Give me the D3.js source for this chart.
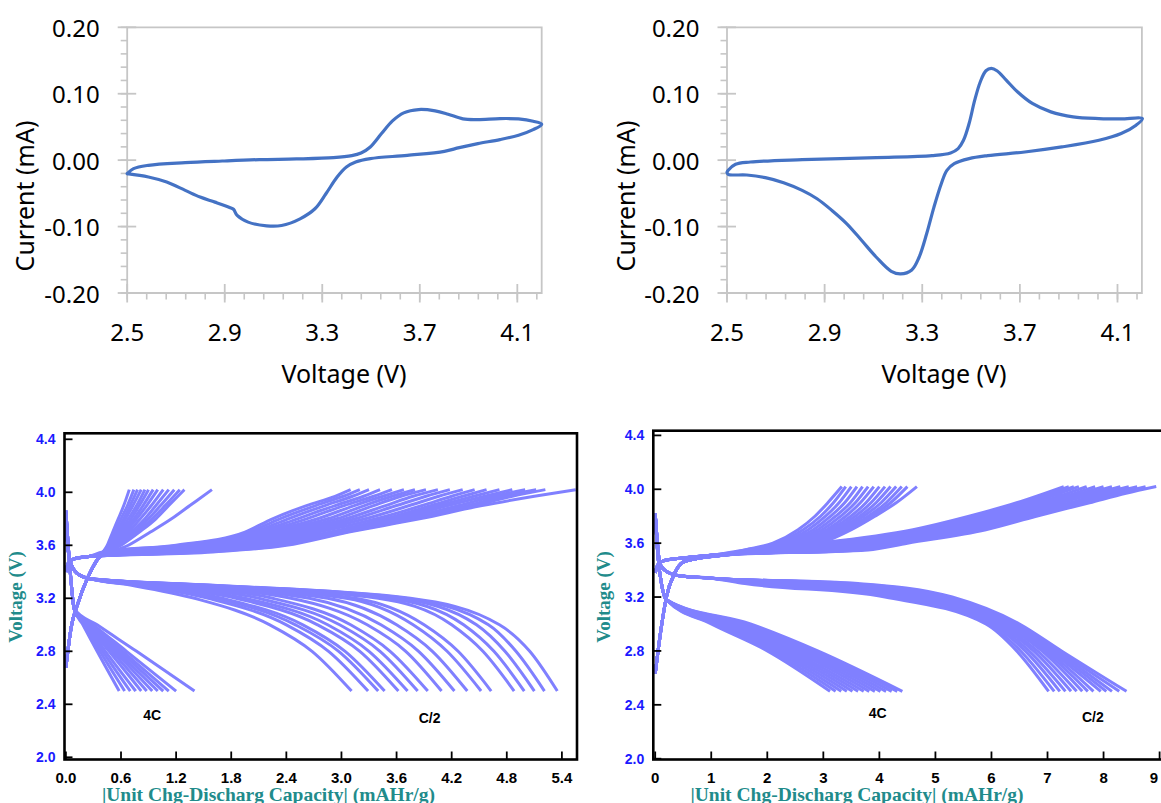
<!DOCTYPE html>
<html><head><meta charset="utf-8">
<script src="https://cdn.jsdelivr.net/npm/d3@7"></script>
<style>
html,body{margin:0;padding:0;background:#fff;}
svg{display:block;}
</style></head><body>
<svg id="chart" width="1161" height="803"></svg>
<script>
// ======================= DATA =======================
// --- Cyclic voltammetry (top) ---
const cvVoltTicks = [2.5, 2.9, 3.3, 3.7, 4.1];
const cvCurrTicks = [-0.20, -0.10, 0.00, 0.10, 0.20];

const cvA_voltage = [2.500,2.526,2.587,2.738,2.890,3.042,3.194,3.346,3.421,3.459,3.497,3.543,3.588,3.634,3.695,3.763,3.816,3.877,3.938,4.029,4.105,4.165,4.200,4.165,4.105,4.029,3.938,3.862,3.801,3.649,3.497,3.437,3.399,3.361,3.315,3.270,3.209,3.133,3.072,2.996,2.951,2.936,2.920,2.860,2.799,2.738,2.662,2.587,2.500];
const cvA_current = [-0.0204,-0.0128,-0.0078,-0.0038,-0.0013,0.0008,0.0018,0.0038,0.0068,0.0108,0.0199,0.0400,0.0591,0.0712,0.0762,0.0742,0.0692,0.0621,0.0611,0.0626,0.0621,0.0586,0.0541,0.0460,0.0375,0.0309,0.0249,0.0189,0.0133,0.0073,0.0023,-0.0028,-0.0103,-0.0254,-0.0506,-0.0732,-0.0883,-0.0984,-0.0989,-0.0933,-0.0833,-0.0740,-0.0712,-0.0632,-0.0556,-0.0455,-0.0330,-0.0254,-0.0204];

const cvB_voltage = [2.500,2.505,2.535,2.596,2.808,3.112,3.340,3.416,3.447,3.469,3.492,3.515,3.538,3.561,3.583,3.606,3.644,3.690,3.751,3.827,3.918,4.024,4.115,4.202,4.176,4.115,4.024,3.872,3.720,3.568,3.492,3.431,3.401,3.378,3.348,3.318,3.287,3.257,3.211,3.173,3.112,3.052,2.991,2.930,2.869,2.808,2.732,2.657,2.581,2.505,2.500];
const cvB_current = [-0.0184,-0.0153,-0.0063,-0.0028,0.0008,0.0038,0.0068,0.0108,0.0174,0.0299,0.0551,0.0903,0.1180,0.1346,0.1381,0.1346,0.1205,0.1029,0.0853,0.0727,0.0652,0.0626,0.0621,0.0626,0.0526,0.0400,0.0299,0.0199,0.0123,0.0068,0.0023,-0.0053,-0.0153,-0.0355,-0.0707,-0.1109,-0.1462,-0.1653,-0.1713,-0.1673,-0.1462,-0.1210,-0.0958,-0.0757,-0.0581,-0.0455,-0.0340,-0.0264,-0.0224,-0.0214,-0.0184];

// --- Galvanostatic cycling (bottom) ---
const gcdVoltTicks = [2.0, 2.4, 2.8, 3.2, 3.6, 4.0, 4.4];
const gcd1CapTicks = [0.0, 0.6, 1.2, 1.8, 2.4, 3.0, 3.6, 4.2, 4.8, 5.4];
const gcd2CapTicks = [0, 1, 2, 3, 4, 5, 6, 7, 8, 9];
const chargeCutoff = 4.02;
const dischargeCutoff = 2.50;

// Panel 1 (left): C/2 charge
const g1_c2chg_head = [[0,3.40],[0.03,3.47],[0.10,3.50],[0.25,3.515]];
const g1_c2chg_levels = [3.55,3.60,3.70,3.80,3.90,3.97];
const g1_c2chg_caps = [
 [0.40,1.20,1.95,2.25,2.62,2.93],[0.45,1.25,2.00,2.33,2.72,3.02],[0.50,1.30,2.05,2.42,2.82,3.12],
 [0.55,1.35,2.10,2.52,2.93,3.24],[0.60,1.40,2.15,2.62,3.03,3.35],[0.65,1.45,2.20,2.74,3.14,3.45],
 [0.70,1.50,2.25,2.85,3.25,3.55],[0.75,1.55,2.35,2.95,3.35,3.65],[0.80,1.60,2.45,3.05,3.48,3.78],
 [0.85,1.65,2.55,3.15,3.60,3.92],[0.90,1.70,2.65,3.26,3.74,4.06],[0.95,1.75,2.75,3.38,3.88,4.20],
 [1.10,1.90,2.88,3.48,3.98,4.32],[1.20,2.00,2.92,3.54,4.07,4.44],[1.30,2.10,2.96,3.61,4.16,4.56],
 [1.40,2.20,3.00,3.68,4.28,4.66],[1.45,2.30,3.02,3.74,4.38,4.76],[1.50,2.35,3.05,3.80,4.45,4.86],
 [1.60,2.40,3.08,3.85,4.53,5.10]];
const g1_c2chg_ends = [3.10,3.20,3.30,3.42,3.55,3.68,3.80,3.92,4.05,4.18,4.32,4.45,4.58,4.72,4.86,5.00,5.12,5.22,5.55];

// Panel 1: C/2 discharge
const g1_c2dis_head = [[0,3.86],[0.02,3.60],[0.05,3.47],[0.12,3.39],[0.25,3.35]];
const g1_c2dis_levels = [3.30,3.20,3.00,2.80];
const g1_c2dis_caps = [
 [0.70,1.40,2.22,2.68],[0.75,1.55,2.40,2.86],[0.80,1.65,2.50,2.97],[0.82,1.70,2.58,3.04],
 [0.88,1.85,2.74,3.20],[0.92,1.95,2.85,3.30],[0.98,2.10,2.98,3.42],[1.02,2.25,3.10,3.53],
 [1.08,2.45,3.28,3.70],[1.15,2.65,3.43,3.84],[1.20,2.85,3.60,3.99],[1.25,3.05,3.78,4.15],
 [1.30,3.15,3.90,4.27],[1.40,3.40,4.20,4.54],[1.45,3.52,4.33,4.66],[1.48,3.62,4.47,4.78],
 [1.52,3.70,4.60,4.90],[1.55,3.75,4.72,5.05]];
const g1_c2dis_ends = [3.11,3.29,3.40,3.47,3.62,3.72,3.83,3.94,4.09,4.23,4.37,4.52,4.63,4.88,4.99,5.10,5.21,5.35];

// Panel 1: 4C charge
const g1_4cchg_head = [[0,2.68],[0.06,2.99],[0.13,3.16],[0.24,3.36],[0.35,3.50]];
const g1_4cchg_levels = [3.60,3.70,3.80,3.90];
const g1_4cchg_caps = [
 [0.45,0.51,0.57,0.63],[0.46,0.53,0.60,0.67],[0.47,0.55,0.63,0.70],[0.48,0.57,0.65,0.73],
 [0.49,0.59,0.68,0.77],[0.50,0.61,0.71,0.80],[0.51,0.63,0.74,0.84],[0.52,0.65,0.77,0.88],
 [0.54,0.68,0.81,0.93],[0.56,0.71,0.86,0.98],[0.57,0.74,0.90,1.03],[0.59,0.77,0.94,1.08],
 [0.60,0.80,0.98,1.12],[0.68,0.92,1.15,1.35]];
const g1_4cchg_ends = [0.69,0.74,0.78,0.82,0.86,0.90,0.95,1.00,1.06,1.12,1.18,1.24,1.29,1.59];

// Panel 1: 4C discharge
const g1_4cdis_head = [[0,3.85],[0.03,3.55],[0.06,3.30],[0.09,3.12]];
const g1_4cdis_levels = [3.00,2.80];
const g1_4cdis_caps = [
 [0.185,0.34],[0.20,0.37],[0.21,0.40],[0.22,0.43],[0.23,0.47],[0.24,0.50],
 [0.25,0.53],[0.26,0.56],[0.27,0.59],[0.28,0.62],[0.30,0.66],[0.34,0.77]];
const g1_4cdis_ends = [0.58,0.64,0.70,0.76,0.82,0.88,0.94,1.00,1.06,1.12,1.20,1.40];

// Panel 2 (right): C/2 charge
const g2_c2chg_head = [[0,3.38],[0.05,3.44],[0.15,3.47],[0.50,3.49],[1.00,3.51]];
const g2_c2chg_levels = [3.55,3.60,3.70,3.80,3.90,3.97];
const g2_c2chg_caps = [
 [1.6,2.9,4.6,5.6,6.45,6.95],[1.8,3.0,4.7,5.7,6.55,7.05],[2.0,3.1,4.8,5.8,6.65,7.14],
 [2.2,3.2,4.9,5.9,6.75,7.22],[2.4,3.35,5.0,6.0,6.85,7.35],[2.6,3.5,5.1,6.1,6.95,7.48],
 [2.8,3.6,5.2,6.2,7.05,7.60],[3.0,3.75,5.3,6.3,7.15,7.72],[3.1,3.9,5.45,6.4,7.25,7.85],
 [3.3,4.05,5.55,6.5,7.40,7.98],[3.5,4.2,5.65,6.6,7.50,8.10],[3.65,4.35,5.8,6.7,7.62,8.25],
 [3.8,4.5,5.9,6.8,7.75,8.40]];
const g2_c2chg_ends = [7.29,7.38,7.47,7.56,7.70,7.85,8.00,8.15,8.30,8.45,8.60,8.75,8.94];

// Panel 2: C/2 discharge
const g2_c2dis_head = [[0,3.82],[0.04,3.60],[0.08,3.45],[0.17,3.40],[0.40,3.36],[1.00,3.34]];
const g2_c2dis_levels = [3.30,3.20,3.00,2.80];
const g2_c2dis_caps = [
 [1.6,4.1,5.90,6.45],[1.8,4.2,5.95,6.52],[2.0,4.3,6.00,6.60],[2.2,4.4,6.05,6.67],
 [2.4,4.5,6.10,6.75],[2.6,4.6,6.15,6.82],[2.8,4.7,6.20,6.90],[2.9,4.8,6.25,6.95],
 [3.0,4.85,6.30,7.00],[3.1,4.95,6.35,7.05],[3.2,5.05,6.38,7.10],[3.35,5.15,6.42,7.15],
 [3.5,5.22,6.46,7.20],[3.62,5.30,6.50,7.25]];
const g2_c2dis_ends = [7.02,7.12,7.22,7.32,7.42,7.52,7.62,7.72,7.82,7.95,8.05,8.15,8.28,8.41];

// Panel 2: 4C charge
const g2_4cchg_head = [[0,2.63],[0.10,2.95],[0.20,3.20],[0.35,3.38],[0.50,3.46],[0.80,3.49],[1.20,3.51]];
const g2_4cchg_levels = [3.55,3.60,3.70,3.80,3.90];
const g2_4cchg_caps = [
 [1.60,2.10,2.55,2.85,3.08],[1.65,2.15,2.64,2.95,3.18],[1.70,2.22,2.73,3.04,3.28],
 [1.75,2.28,2.82,3.13,3.38],[1.80,2.35,2.90,3.22,3.48],[1.85,2.42,2.98,3.31,3.57],
 [1.90,2.48,3.06,3.40,3.66],[1.95,2.55,3.13,3.49,3.76],[2.00,2.60,3.20,3.57,3.85],
 [2.05,2.66,3.26,3.65,3.94],[2.10,2.72,3.32,3.72,4.03],[2.15,2.80,3.38,3.80,4.12],
 [2.20,2.88,3.44,3.86,4.20],[2.30,2.95,3.50,3.92,4.30]];
const g2_4cchg_ends = [3.33,3.40,3.50,3.60,3.70,3.80,3.90,4.00,4.10,4.20,4.30,4.40,4.50,4.67];

// Panel 2: 4C discharge
const g2_4cdis_head = [[0,3.82],[0.05,3.50],[0.12,3.28],[0.20,3.18]];
const g2_4cdis_levels = [3.00,2.80];
const g2_4cdis_caps = [
 [1.00,2.00],[1.05,2.07],[1.10,2.14],[1.15,2.21],[1.20,2.28],[1.25,2.35],[1.30,2.42],
 [1.35,2.50],[1.40,2.57],[1.45,2.64],[1.52,2.71],[1.58,2.78],[1.64,2.84],[1.70,2.90]];
const g2_4cdis_ends = [3.12,3.22,3.32,3.42,3.52,3.62,3.72,3.82,3.92,4.02,4.12,4.22,4.32,4.41];

const rateLabels = ["4C", "C/2"];

// ======================= DRAWING =======================
const svg = d3.select('#chart');
const CV_FONT = '"Noto Sans","Open Sans",sans-serif';
const GCD_FONT = '"Liberation Sans",Arial,sans-serif';
const SERIF = '"Liberation Serif","Times New Roman",serif';

function drawCV(cfg) {
  const x = d3.scaleLinear().domain([2.5, 4.2]).range([cfg.left, cfg.right]);
  const y = d3.scaleLinear().domain([-0.2, 0.2]).range([293, 27.3]);
  const g = svg.append('g');
  const gray = '#c6c6c6';
  const x0 = x(2.5), yb = y(-0.2);
  const minorX = d3.range(0, 22).map(k => 2.5 + k * 0.08);
  const minorY = d3.range(0, 21).map(k => -0.2 + k * 0.02);
  g.selectAll('.mx').data(minorX).join('line')
    .attr('x1', d => x(d)).attr('x2', d => x(d)).attr('y1', yb).attr('y2', yb + 6.5)
    .attr('stroke', gray).attr('stroke-width', 1.6);
  g.selectAll('.my').data(minorY).join('line')
    .attr('x1', x0 - 6.5).attr('x2', x0).attr('y1', d => y(d)).attr('y2', d => y(d))
    .attr('stroke', gray).attr('stroke-width', 1.6);
  g.selectAll('.Mx').data(cvVoltTicks).join('line')
    .attr('x1', d => x(d)).attr('x2', d => x(d)).attr('y1', yb - 9).attr('y2', yb + 9.5)
    .attr('stroke', gray).attr('stroke-width', 1.8);
  g.selectAll('.My').data(cvCurrTicks).join('line')
    .attr('x1', x0 - 9.5).attr('x2', x0 + 9).attr('y1', d => y(d)).attr('y2', d => y(d))
    .attr('stroke', gray).attr('stroke-width', 1.8);
  g.append('path')
    .attr('d', `M${x0},${y(0.2)}H${x(4.2)}V${yb}H${x0}Z`)
    .attr('fill', 'none').attr('stroke', gray).attr('stroke-width', 1.8);
  g.selectAll('.yl').data(cvCurrTicks).join('text')
    .attr('x', x0 - 27.5).attr('y', d => y(d)).attr('text-anchor', 'end')
    .attr('dominant-baseline', 'central')
    .style('font-family', CV_FONT).style('font-size', '24px').attr('fill', '#000')
    .text(d => d3.format('.2f')(d).replace('−', '-'));
  g.selectAll('.xl').data(cvVoltTicks).join('text')
    .attr('x', d => x(d)).attr('y', 331).attr('text-anchor', 'middle')
    .attr('dominant-baseline', 'central')
    .style('font-family', CV_FONT).style('font-size', '24px').attr('fill', '#000')
    .text(d => d3.format('.1f')(d));
  g.append('text').attr('x', cfg.xTitleX).attr('y', 373).attr('text-anchor', 'middle')
    .attr('dominant-baseline', 'central')
    .style('font-family', CV_FONT).style('font-size', '25px').text('Voltage (V)');
  g.append('text').attr('transform', `translate(${cfg.yTitleX},196) rotate(-90)`)
    .attr('text-anchor', 'middle').attr('dominant-baseline', 'central')
    .style('font-family', CV_FONT).style('font-size', '25px').text('Current (mA)');
  const pts = cfg.volt.map((v, i) => [v, cfg.curr[i]]);
  const line = d3.line().x(d => x(d[0])).y(d => y(d[1])).curve(d3.curveCatmullRom.alpha(0.5));
  g.append('path').attr('d', line(pts)).attr('fill', 'none')
    .attr('stroke', '#4472c4').attr('stroke-width', 3.2)
    .attr('stroke-linejoin', 'round').attr('stroke-linecap', 'round');
}

drawCV({left: 127.2, right: 541.7, volt: cvA_voltage, curr: cvA_current, xTitleX: 344, yTitleX: 24});
drawCV({left: 727, right: 1141.9, volt: cvB_voltage, curr: cvB_current, xTitleX: 944, yTitleX: 624.5});

function buildCurves(head, levels, capsRows, ends, endV) {
  return capsRows.map((row, i) =>
    head.concat(row.map((c, j) => [c, levels[j]]), [[ends[i], endV]]));
}

let clipId = 0;
function drawGCD(cfg) {
  const x = d3.scaleLinear().domain([0, cfg.capMax]).range([cfg.x0, cfg.x1]);
  const y = d3.scaleLinear().domain([2.0, 4.4]).range([cfg.y0, cfg.y1]);
  const g = svg.append('g');
  const id = 'clip' + (clipId++);
  g.append('clipPath').attr('id', id).append('rect')
    .attr('x', cfg.fL).attr('y', cfg.fT).attr('width', cfg.fR - cfg.fL).attr('height', cfg.fB - cfg.fT);
  const line = d3.line().x(d => x(d[0])).y(d => y(d[1])).curve(d3.curveMonotoneX);
  const curves = [].concat(...cfg.groups.map(gr => buildCurves(gr[0], gr[1], gr[2], gr[3], gr[4])));
  g.append('g').attr('clip-path', `url(#${id})`)
    .selectAll('path').data(curves).join('path')
    .attr('d', line).attr('fill', 'none').attr('stroke', '#8080ff')
    .attr('stroke-width', 3).attr('stroke-linejoin', 'round');
  g.append('rect').attr('x', cfg.fL).attr('y', cfg.fT)
    .attr('width', cfg.fR - cfg.fL).attr('height', cfg.fB - cfg.fT)
    .attr('fill', 'none').attr('stroke', '#000').attr('stroke-width', 2.6);
  g.selectAll('.tx').data(cfg.capTicks).join('line')
    .attr('x1', d => x(d)).attr('x2', d => x(d)).attr('y1', cfg.fB).attr('y2', cfg.fB - 8)
    .attr('stroke', '#000').attr('stroke-width', 1.8);
  g.selectAll('.ty').data(gcdVoltTicks).join('line')
    .attr('x1', cfg.fL).attr('x2', cfg.fL + 8).attr('y1', d => y(d)).attr('y2', d => y(d))
    .attr('stroke', '#000').attr('stroke-width', 1.8);
  g.selectAll('.lx').data(cfg.capTicks).join('text')
    .attr('x', d => Math.min(x(d), 1154)).attr('y', 777).attr('text-anchor', 'middle')
    .attr('dominant-baseline', 'central')
    .style('font-family', GCD_FONT).style('font-weight', 'bold').style('font-size', '15px')
    .attr('fill', '#000').text(d => cfg.capFmt(d));
  g.selectAll('.ly').data(gcdVoltTicks).join('text')
    .attr('x', cfg.fL - 9).attr('y', d => y(d)).attr('text-anchor', 'end')
    .attr('dominant-baseline', 'central')
    .style('font-family', GCD_FONT).style('font-weight', 'bold').style('font-size', '14px')
    .attr('fill', '#1a1aff').text(d => d3.format('.1f')(d));
  g.append('text').attr('x', cfg.xTitleX).attr('y', 794).attr('text-anchor', 'middle')
    .attr('dominant-baseline', 'central')
    .style('font-family', SERIF).style('font-weight', 'bold').style('font-size', '19.5px')
    .attr('fill', '#218b8b').text('|Unit Chg-Discharg Capacity| (mAHr/g)');
  g.append('text').attr('transform', `translate(${cfg.yTitleX},597) rotate(-90)`)
    .attr('text-anchor', 'middle').attr('dominant-baseline', 'central')
    .style('font-family', SERIF).style('font-weight', 'bold').style('font-size', '19px')
    .attr('fill', '#218b8b').text('Voltage (V)');
  g.selectAll('.ann').data(cfg.ann).join('text')
    .attr('x', d => x(d[0])).attr('y', d => y(d[1])).attr('text-anchor', 'middle')
    .attr('dominant-baseline', 'central')
    .style('font-family', GCD_FONT).style('font-weight', 'bold').style('font-size', '14px')
    .attr('fill', '#000').text((d, i) => rateLabels[i]);
}

drawGCD({
  capMax: 5.4, x0: 65.9, x1: 561.9, y0: 757.3, y1: 439.3,
  fL: 64.5, fR: 577, fT: 433.3, fB: 759.5,
  capTicks: gcd1CapTicks, capFmt: d3.format('.1f'),
  xTitleX: 268.5, yTitleX: 15,
  ann: [[0.94, 2.32], [3.96, 2.30]],
  groups: [
    [g1_c2chg_head, g1_c2chg_levels, g1_c2chg_caps, g1_c2chg_ends, chargeCutoff],
    [g1_c2dis_head, g1_c2dis_levels, g1_c2dis_caps, g1_c2dis_ends, dischargeCutoff],
    [g1_4cchg_head, g1_4cchg_levels, g1_4cchg_caps, g1_4cchg_ends, chargeCutoff],
    [g1_4cdis_head, g1_4cdis_levels, g1_4cdis_caps, g1_4cdis_ends, dischargeCutoff]
  ]
});

drawGCD({
  capMax: 9, x0: 655.2, x1: 1159.6, y0: 758.7, y1: 435.4,
  fL: 653.3, fR: 1185, fT: 430.7, fB: 759.5,
  capTicks: gcd2CapTicks, capFmt: d3.format('d'),
  xTitleX: 857, yTitleX: 603,
  ann: [[3.97, 2.34], [7.81, 2.31]],
  groups: [
    [g2_c2chg_head, g2_c2chg_levels, g2_c2chg_caps, g2_c2chg_ends, chargeCutoff],
    [g2_c2dis_head, g2_c2dis_levels, g2_c2dis_caps, g2_c2dis_ends, dischargeCutoff],
    [g2_4cchg_head, g2_4cchg_levels, g2_4cchg_caps, g2_4cchg_ends, chargeCutoff],
    [g2_4cdis_head, g2_4cdis_levels, g2_4cdis_caps, g2_4cdis_ends, dischargeCutoff]
  ]
});
</script>
</body></html>
